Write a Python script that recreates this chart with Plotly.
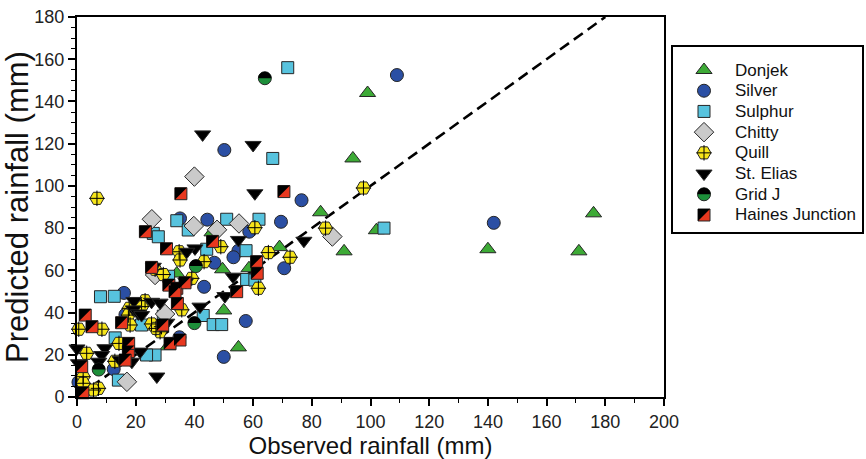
import plotly.graph_objects as go

# ---------------- data ----------------
SERIES = ["Donjek", "Silver", "Sulphur", "Chitty", "Quill", "St. Elias", "Grid J", "Haines Junction"]

DONJEK_X = [99, 94, 83, 91, 102, 140, 171, 176, 69, 58.6, 49.6, 46, 50, 55, 34, 31]
DONJEK_Y = [144, 113, 87.5, 69, 79, 70, 69, 87, 71, 61, 60.5, 78, 41, 23.5, 58.5, 24]

SILVER_X = [109, 142, 76.5, 50.2, 44.4, 58.7, 69.5, 55, 53.3, 70.6, 46.8, 43.3, 57.5, 50, 35.1, 34.9, 16, 12.5, 0.5, 16.5]
SILVER_Y = [152.5, 82.5, 93.2, 117, 84, 78.3, 83, 69.3, 66.2, 61, 63.6, 52.2, 36, 19, 84.6, 28.3, 49.3, 13.2, 7, 39]

SULPHUR_X = [71.8, 66.7, 104.6, 51, 62, 44.2, 57.6, 57.8, 60.6, 43, 46.4, 49.3, 34, 37.9, 26, 27.7, 31.2, 26.6, 23.7, 8, 12.7, 14.1, 22, 29.4, 13]
SULPHUR_Y = [156, 113, 80, 84.2, 84.2, 70, 69.3, 55.7, 55.4, 38.6, 34.3, 34.3, 83.5, 79.1, 77.5, 75.9, 57.2, 19.9, 19.9, 47.5, 47.7, 8, 34.1, 38.3, 28]

CHITTY_X = [40, 25.5, 55.2, 39.8, 47.7, 87, 30, 17, 26.6]
CHITTY_Y = [104.4, 84.2, 82.2, 81, 79.2, 76, 39.3, 7.2, 57.8]

QUILL_X = [6.8, 97.6, 84.7, 60.6, 49, 65.2, 72.6, 43.3, 61.8, 35.7, 28.8, 28.3, 34.8, 35.1, 26.6, 29.4, 39.1,
           23.2, 22, 17.8, 17.5, 18.1, 25.4, 26.9, 14.3, 3.3, 12.9, 2.1, 2.1, 7.3, 5.6, 0.6, 8.5]
QUILL_Y = [94.1, 99, 80, 80.2, 71.2, 68.4, 66.2, 64.1, 51.5, 41.3, 33.3, 30.9, 68.8, 64.9, 60.5, 58, 56.2,
           45.6, 42.8, 42, 38.8, 34.1, 34.6, 32.5, 25.4, 20.7, 16.9, 9.6, 6.5, 4.1, 3.3, 32.1, 32.1]

STELIAS_X = [42.8, 60, 60.6, 77.3, 55, 53.2, 50.4, 41.9, 40.2, 37.4, 37.1, 26, 25.4, 28.3, 19.4, 19.2, 20.9,
             22, 30.6, 27.2, 9.5, 8.4, 0, 14.7, 21.5, 5.6, 7.4, 18.7, 0.5]
STELIAS_Y = [124.4, 119.4, 96.5, 74, 74.4, 57, 47.8, 42.8, 70.4, 68.8, 54.6, 61.7, 45.1, 44.7, 45.5, 41.5, 39.6,
             38.8, 35.2, 9.7, 23.1, 19.9, 23, 17.5, 21.5, -0.5, 16.7, 16.7, 16]

GRIDJ_X = [64, 40, 40.5, 7.4]
GRIDJ_Y = [151, 35, 62, 13]

HAINES_X = [35.4, 70.5, 46.2, 61.2, 61.4, 54.4, 23.3, 30.5, 25.4, 31.3, 34, 36.8, 33.4, 34.2, 15.2, 29.2,
            35.1, 31.7, 17.5, 16.4, 1.6, 2.8, 5.1, 17.6, 2]
HAINES_Y = [96.3, 97.3, 73.7, 64.1, 58.6, 49.9, 78.3, 70.2, 61.4, 53, 51.5, 54.1, 49.9, 44.3, 35.2, 34.1,
            27, 25.4, 21.5, 17.5, 14.4, 38.8, 33.3, 25.4, 2]

ONE_TO_ONE = [0, 180]          # 1:1 reference line
X_TICKS = list(range(0, 201, 20))
Y_TICKS = list(range(0, 181, 20))

DATA = {
    "Donjek": (DONJEK_X, DONJEK_Y),
    "Silver": (SILVER_X, SILVER_Y),
    "Sulphur": (SULPHUR_X, SULPHUR_Y),
    "Chitty": (CHITTY_X, CHITTY_Y),
    "Quill": (QUILL_X, QUILL_Y),
    "St. Elias": (STELIAS_X, STELIAS_Y),
    "Grid J": (GRIDJ_X, GRIDJ_Y),
    "Haines Junction": (HAINES_X, HAINES_Y),
}

# ---------------- styles ----------------
OUTLINE = "#262626"
STYLE = {
    "Donjek": dict(symbol="triangle-up", color="#3daa36", size=14),
    "Silver": dict(symbol="circle", color="#2b4fa4", size=13),
    "Sulphur": dict(symbol="square", color="#57c3de", size=12),
    "Chitty": dict(symbol="diamond", color="#cacaca", size=15),
    "Quill": dict(symbol="hexagon2", color="#f7e61a", size=14),
    "St. Elias": dict(symbol="triangle-down", color="#000000", size=14),
    "Grid J": dict(symbol="circle", color="#1d8f3a", size=13),
    "Haines Junction": dict(symbol="square", color="#e8381f", size=12),
}
FONT = "Liberation Sans, Arial, Helvetica, sans-serif"

# layout geometry in page pixels (866x459 window, body margin removed below)
FIG_W, FIG_H = 866, 459
PL, PR, PT, PB = 77, 664, 17, 397          # plot frame
LEG_L, LEG_R, LEG_T, LEG_B = 673, 862, 47, 232
ML, MT = PL, PT
MR = FIG_W - LEG_R
MB = FIG_H - PB
PAPER_W = FIG_W - ML - MR
PAPER_H = FIG_H - MT - MB
MAIN_DOM = [0, (PR - ML) / PAPER_W]
LEG_XDOM = [(LEG_L - ML) / PAPER_W, 1.0]
LEG_YDOM = [(PB - LEG_B) / PAPER_H, (PB - LEG_T) / PAPER_H]
LEG_SYM_X = 31 / (LEG_R - LEG_L)
LEG_TXT_X = 60 / (LEG_R - LEG_L)
ROW = 20.7
LEG_YRANGE = [len(SERIES) - 1 + 17 / ROW, -23 / ROW]

fig = go.Figure()

# 1:1 dashed line
fig.add_trace(go.Scatter(x=ONE_TO_ONE, y=ONE_TO_ONE, mode="lines",
                         line=dict(color="black", width=2.6, dash="11px,6px"),
                         hoverinfo="skip", showlegend=False))


def add_series(name, xs, ys, xref, yref):
    st = STYLE[name]
    fig.add_trace(go.Scatter(
        x=xs, y=ys, mode="markers", name=name, showlegend=False, cliponaxis=False,
        xaxis=xref, yaxis=yref,
        marker=dict(symbol=st["symbol"], color=st["color"], size=st["size"],
                    line=dict(color=OUTLINE, width=1))))
    if name == "Quill":
        fig.add_trace(go.Scatter(
            x=xs, y=ys, mode="markers", showlegend=False, cliponaxis=False, hoverinfo="skip",
            xaxis=xref, yaxis=yref,
            marker=dict(symbol="cross-thin-open", size=st["size"] - 3, color="black",
                        line=dict(color="black", width=1))))


shapes = []


def overlay_shapes(name, xs, ys, xref, yref):
    for xv, yv in zip(xs, ys):
        if name == "Haines Junction":
            s = STYLE[name]["size"] / 2
            path = f"M{-s},{s} L{s},{s} L{-s},{-s} Z"
        elif name == "Grid J":
            r = STYLE[name]["size"] / 2
            k = 0.5523 * r
            path = f"M{-r},0 C{-r},{k} {-k},{r} 0,{r} C{k},{r} {r},{k} {r},0 Z"
        else:
            continue
        shapes.append(dict(type="path", xref=xref, yref=yref, xsizemode="pixel", ysizemode="pixel",
                           xanchor=xv, yanchor=yv, path=path, fillcolor="black",
                           line=dict(width=0), layer="above"))


for name in SERIES:
    xs, ys = DATA[name]
    add_series(name, xs, ys, "x", "y")
    overlay_shapes(name, xs, ys, "x", "y")

# hand-made legend in its own little frame (x2/y2)
annotations = []
for i, name in enumerate(SERIES):
    add_series(name, [LEG_SYM_X], [i], "x2", "y2")
    overlay_shapes(name, [LEG_SYM_X], [i], "x2", "y2")
    annotations.append(dict(x=LEG_TXT_X, y=i, xref="x2", yref="y2", text=name, showarrow=False,
                            xanchor="left", yanchor="middle",
                            font=dict(family=FONT, size=17, color="#111111")))

axis_common = dict(showgrid=False, zeroline=False, linecolor="black", linewidth=2,
                   tickcolor="black", tickwidth=1.5, ticklen=7, automargin=False,
                   tickfont=dict(family=FONT, size=18, color="#222222"))

fig.update_layout(
    width=FIG_W, height=FIG_H,
    margin=dict(l=ML, r=MR, t=MT, b=MB, autoexpand=False),
    paper_bgcolor="white", plot_bgcolor="white",
    showlegend=False,
    shapes=shapes,
    annotations=annotations,
    xaxis=dict(domain=MAIN_DOM, range=[0, 200], tickvals=X_TICKS, ticks="outside", showline=True,
               mirror=True, anchor="y",
               minor=dict(dtick=10, ticks="outside", ticklen=4, tickwidth=1.2, tickcolor="black"),
               title=dict(text="Observed rainfall (mm)", standoff=4,
                          font=dict(family=FONT, size=24, color="#111111")),
               **axis_common),
    yaxis=dict(domain=[0, 1], range=[0, 180], tickvals=Y_TICKS, ticks="outside", showline=True,
               mirror=True, anchor="x",
               minor=dict(dtick=5, ticks="outside", ticklen=4, tickwidth=1.2, tickcolor="black"),
               title=dict(text="Predicted rainfall (mm)", standoff=0,
                          font=dict(family=FONT, size=31, color="#111111")),
               **axis_common),
    xaxis3=dict(overlaying="x", side="top", anchor="y", range=[0, 200], tickvals=X_TICKS,
                ticks="inside", showticklabels=False, showline=False, showgrid=False, zeroline=False,
                tickcolor="black", tickwidth=1.5, ticklen=7, automargin=False,
                minor=dict(dtick=10, ticks="inside", ticklen=4, tickwidth=1.2, tickcolor="black")),
    yaxis3=dict(overlaying="y", side="right", anchor="x", range=[0, 180], tickvals=Y_TICKS,
                ticks="inside", showticklabels=False, showline=False, showgrid=False, zeroline=False,
                tickcolor="black", tickwidth=1.5, ticklen=7, automargin=False,
                minor=dict(dtick=5, ticks="inside", ticklen=4, tickwidth=1.2, tickcolor="black")),
    xaxis2=dict(domain=LEG_XDOM, range=[0, 1], anchor="y2", showline=True, mirror=True,
                linecolor="black", linewidth=1.5, showticklabels=False, ticks="", automargin=False,
                showgrid=False, zeroline=False, fixedrange=True),
    yaxis2=dict(domain=LEG_YDOM, range=LEG_YRANGE, anchor="x2", showline=True, mirror=True,
                linecolor="black", linewidth=1.5, showticklabels=False, ticks="", automargin=False,
                showgrid=False, zeroline=False, fixedrange=True),
)

fig.write_html("out.html", config={"displayModeBar": False},
               post_script="document.body.style.margin='0px';document.body.style.overflow='hidden';")
